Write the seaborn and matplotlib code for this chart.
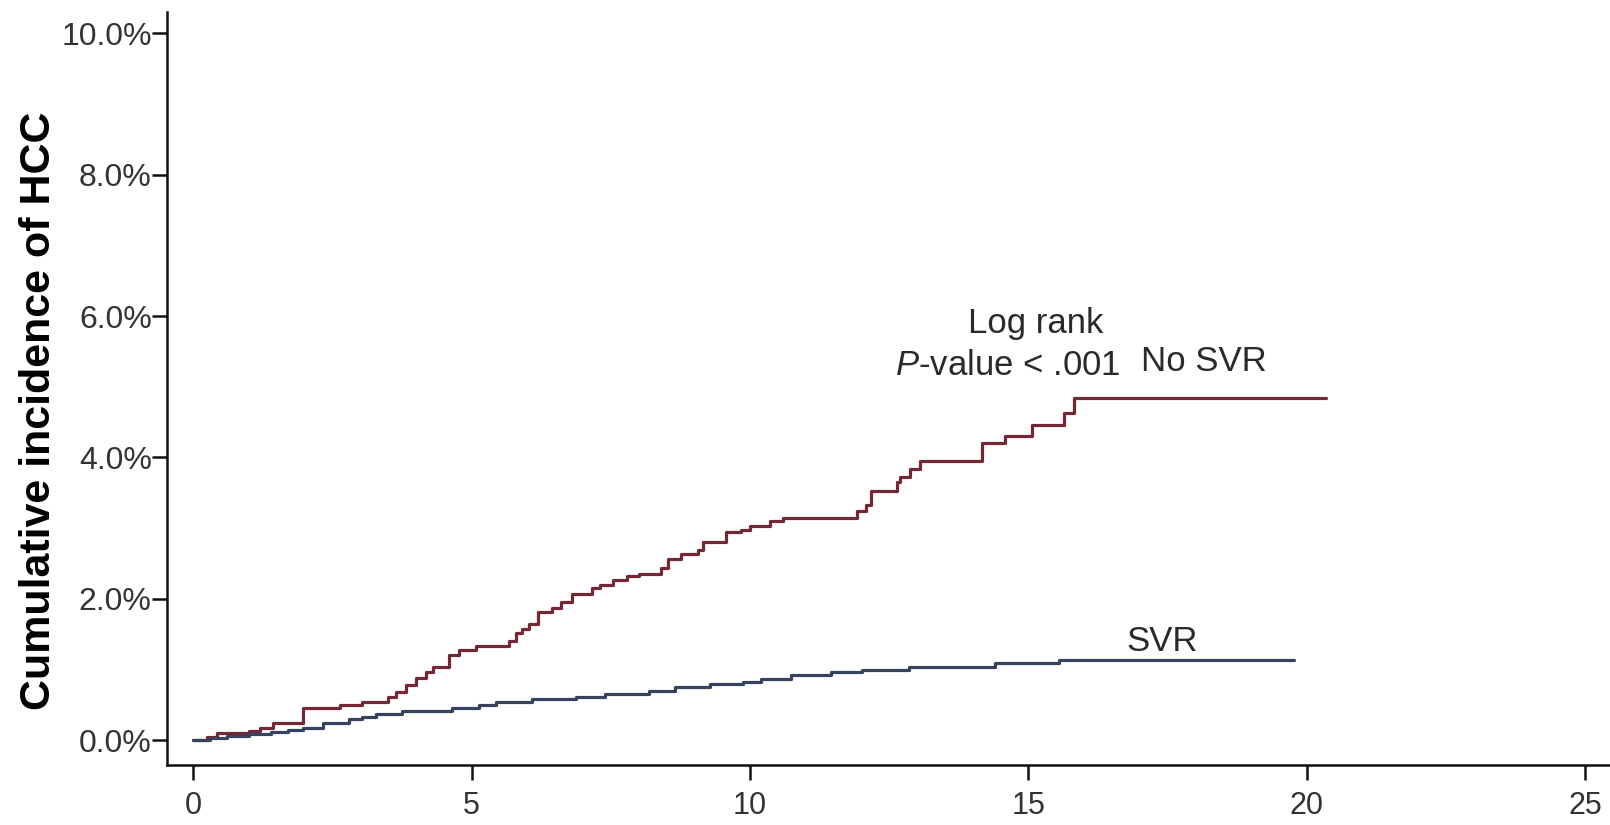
import matplotlib
matplotlib.use("Agg")
import matplotlib.pyplot as plt
import numpy as np
import pandas as pd
import seaborn as sns

# Kaplan-Meier style cumulative incidence (percent) at each event time
no_svr_time = [0, 0.25, 0.43, 1.0, 1.2, 1.43, 1.97, 2.63, 3.04, 3.5, 3.65, 3.83,
               4.0, 4.19, 4.3, 4.6, 4.78, 5.08, 5.67, 5.8, 5.9, 6.03, 6.2, 6.44,
               6.6, 6.8, 7.16, 7.3, 7.55, 7.8, 8.0, 8.4, 8.53, 8.77, 9.07, 9.16,
               9.57, 9.84, 10.0, 10.36, 10.59, 11.93, 12.08, 12.17, 12.65, 12.7,
               12.88, 13.06, 14.17, 14.58, 15.06, 15.65, 15.83, 20.34]
no_svr_inc = [0, 0.04, 0.10, 0.13, 0.17, 0.24, 0.45, 0.50, 0.54, 0.61, 0.68, 0.78,
              0.88, 0.97, 1.03, 1.20, 1.27, 1.33, 1.41, 1.51, 1.58, 1.65, 1.81, 1.87,
              1.95, 2.07, 2.15, 2.20, 2.26, 2.32, 2.35, 2.43, 2.57, 2.64, 2.69, 2.80,
              2.94, 2.98, 3.03, 3.10, 3.15, 3.24, 3.33, 3.52, 3.65, 3.73,
              3.83, 3.95, 4.20, 4.31, 4.46, 4.63, 4.84, 4.84]

svr_time = [0, 0.3, 0.6, 1.0, 1.4, 1.7, 1.97, 2.33, 2.8, 3.04, 3.29, 3.76, 4.65,
            5.13, 5.44, 6.08, 6.87, 7.4, 8.18, 8.66, 9.28, 9.87, 10.2, 10.73,
            11.45, 12.02, 12.86, 14.4, 15.55, 19.77]
svr_inc = [0, 0.03, 0.06, 0.09, 0.12, 0.15, 0.18, 0.24, 0.30, 0.33, 0.37, 0.41, 0.45,
           0.50, 0.54, 0.58, 0.61, 0.66, 0.69, 0.75, 0.79, 0.83, 0.87, 0.92,
           0.96, 1.00, 1.04, 1.09, 1.13, 1.13]

groups = ["No SVR", "SVR"]
x_ticks = [0, 5, 10, 15, 20, 25]
y_ticks = [0, 2, 4, 6, 8, 10]
y_tick_labels = ["0.0%", "2.0%", "4.0%", "6.0%", "8.0%", "10.0%"]
y_label = "Cumulative incidence of HCC"

df = pd.concat([
    pd.DataFrame({"time": no_svr_time, "incidence": no_svr_inc, "group": groups[0]}),
    pd.DataFrame({"time": svr_time, "incidence": svr_inc, "group": groups[1]}),
], ignore_index=True)

sns.set_theme(style="ticks")
plt.rcParams["font.family"] = ["Liberation Sans", "DejaVu Sans"]
plt.rcParams["mathtext.fontset"] = "custom"
plt.rcParams["mathtext.rm"] = "Liberation Sans"
plt.rcParams["mathtext.it"] = "Liberation Sans:italic"

fig = plt.figure(figsize=(16.1, 8.25), dpi=100)
ax = fig.add_axes([167 / 1610, 60 / 825, 1 - 167 / 1610, 753 / 825])

palette = {"No SVR": "#742833", "SVR": "#36435f"}
sns.lineplot(data=df, x="time", y="incidence", hue="group", palette=palette,
             drawstyle="steps-post", estimator=None, sort=False,
             linewidth=2.3, legend=False, ax=ax)

ax.set_xlim(-0.47, 25.45)
ax.set_ylim(-0.35, 10.3)
ax.set_xticks(x_ticks)
ax.set_xticklabels([str(t) for t in x_ticks])
ax.set_yticks(y_ticks)
ax.set_yticklabels(y_tick_labels)
ax.set_xlabel("")
ax.set_ylabel(y_label, fontsize=31, fontweight="bold", color="black")
ax.yaxis.set_label_coords(-0.075, 0.47)

sns.despine(ax=ax)
for side in ("left", "bottom"):
    ax.spines[side].set_linewidth(1.8)
    ax.spines[side].set_color("#111111")
ax.tick_params(axis="both", direction="out", length=11, width=1.8,
               color="#111111", labelsize=23, labelcolor="#333333")
ax.tick_params(axis="y", pad=0)
ax.tick_params(axis="x", pad=8, labelsize=22)

text_kw = dict(fontsize=25, color="#2a2a2a", ha="center", va="center")
ax.text(15.13, 5.9, "Log rank", **text_kw)
ax.text(14.63, 5.3, r"$P$-value < .001", **text_kw)
ax.text(18.16, 5.36, "No SVR", **text_kw)
ax.text(17.4, 1.4, "SVR", **text_kw)

fig.savefig("out.png", dpi=100, facecolor="white")
